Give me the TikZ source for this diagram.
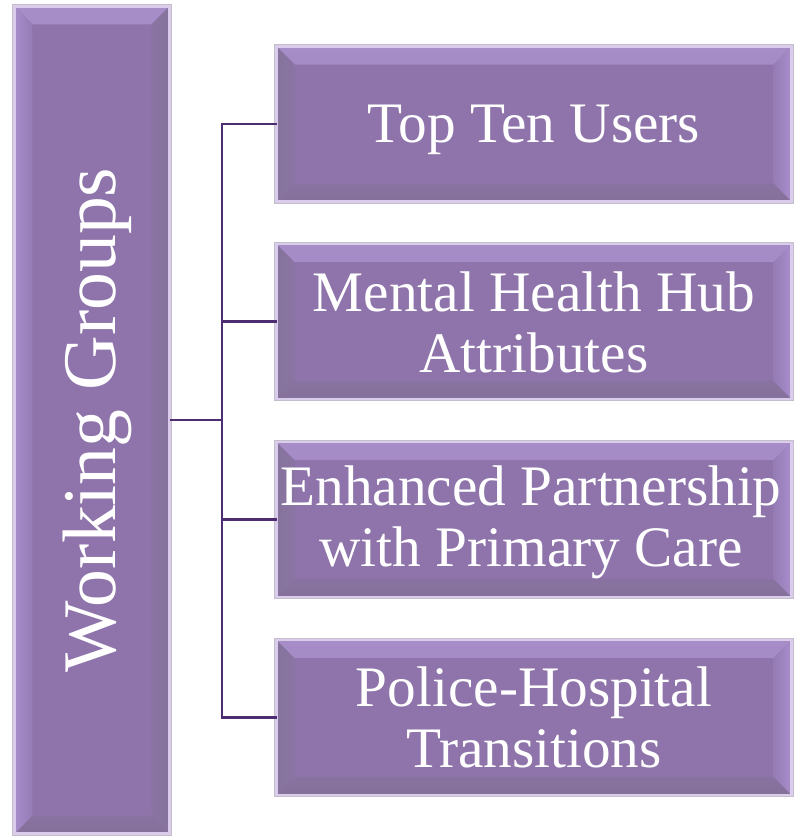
\documentclass[tikz,border=0pt]{standalone}
\usepackage{fontspec}
\setmainfont{Liberation Serif}
\definecolor{face}{HTML}{8E74AA}
\definecolor{bevtop}{HTML}{A78DC8}
\definecolor{bevlight}{HTML}{A78ECB}
\definecolor{bevdark}{HTML}{86749C}
\definecolor{bevbot}{HTML}{85719A}
\definecolor{rimin}{HTML}{D9CDEB}
\definecolor{rimout}{HTML}{C4BFCB}
\definecolor{conn}{HTML}{4E2C72}
\newcommand{\bvs}{18bp}
\tikzset{
  rimbox/.style={rectangle, inner sep=0pt, outer sep=0pt, fill=face,
    draw=rimin, line width=2.5bp, preaction={draw=rimout, line width=4.5bp}},
  leftbevbox/.style={rimbox, path picture={
    \shade[top color=bevtop, bottom color=face!55!bevtop]
      (path picture bounding box.north west) -- (path picture bounding box.north east)
      -- ([xshift=-\bvs,yshift=-\bvs]path picture bounding box.north east)
      -- ([xshift=\bvs,yshift=-\bvs]path picture bounding box.north west) -- cycle;
    \shade[top color=face!40!bevbot, bottom color=bevbot]
      (path picture bounding box.south west) -- (path picture bounding box.south east)
      -- ([xshift=-\bvs,yshift=\bvs]path picture bounding box.south east)
      -- ([xshift=\bvs,yshift=\bvs]path picture bounding box.south west) -- cycle;
    \shade[left color=bevlight, right color=face!70!bevlight]
      (path picture bounding box.north west) -- (path picture bounding box.south west)
      -- ([xshift=\bvs,yshift=\bvs]path picture bounding box.south west)
      -- ([xshift=\bvs,yshift=-\bvs]path picture bounding box.north west) -- cycle;
    \shade[left color=face!50!bevdark, right color=bevdark]
      (path picture bounding box.north east) -- (path picture bounding box.south east)
      -- ([xshift=-\bvs,yshift=\bvs]path picture bounding box.south east)
      -- ([xshift=-\bvs,yshift=-\bvs]path picture bounding box.north east) -- cycle;
  }},
  rightbevbox/.style={rimbox, minimum width=515bp, minimum height=155bp, path picture={
    \shade[top color=bevtop, bottom color=face!55!bevtop]
      (path picture bounding box.north west) -- (path picture bounding box.north east)
      -- ([xshift=-\bvs,yshift=-\bvs]path picture bounding box.north east)
      -- ([xshift=\bvs,yshift=-\bvs]path picture bounding box.north west) -- cycle;
    \shade[top color=face!40!bevbot, bottom color=bevbot]
      (path picture bounding box.south west) -- (path picture bounding box.south east)
      -- ([xshift=-\bvs,yshift=\bvs]path picture bounding box.south east)
      -- ([xshift=\bvs,yshift=\bvs]path picture bounding box.south west) -- cycle;
    \shade[left color=bevdark, right color=face!50!bevdark]
      (path picture bounding box.north west) -- (path picture bounding box.south west)
      -- ([xshift=\bvs,yshift=\bvs]path picture bounding box.south west)
      -- ([xshift=\bvs,yshift=-\bvs]path picture bounding box.north west) -- cycle;
    \shade[left color=face!70!bevlight, right color=bevlight]
      (path picture bounding box.north east) -- (path picture bounding box.south east)
      -- ([xshift=-\bvs,yshift=\bvs]path picture bounding box.south east)
      -- ([xshift=-\bvs,yshift=-\bvs]path picture bounding box.north east) -- cycle;
  }},
  boxlabel/.style={text=white, align=center, inner sep=0pt,
    font=\fontsize{57.5}{61}\selectfont},
  wglabel/.style={text=white, inner sep=0pt, font=\fontsize{76}{80}\selectfont},
  connline/.style={draw=conn, line width=2.2bp}
}
\begin{document}
\begin{tikzpicture}[x=1bp, y=-1bp]
  \useasboundingbox (0,0) rectangle (794,836);
  % left box
  \node[leftbevbox, minimum width=155bp, minimum height=827bp] (wg) at (92,420) {};
  \node[wglabel] (wgt) at ([xshift=5bp]wg.center) {\rotatebox{90}{Working Groups}};
  % right boxes
  \node[rightbevbox] (b1) at (534,124) {};
  \node[rightbevbox] (b2) at (534,321.5) {};
  \node[rightbevbox] (b3) at (534,519.5) {};
  \node[rightbevbox] (b4) at (534,717.5) {};
  \node[boxlabel] (l1) at ([yshift=-6bp]b1.center) {Top Ten Users};
  \node[boxlabel] (l2) at ([yshift=-1bp]b2.center) {Mental Health Hub\\Attributes};
  \node[boxlabel] (l3) at ([xshift=-3bp,yshift=-3bp]b3.center) {Enhanced Partnership\\with Primary Care};
  \node[boxlabel] (l4) at (b4.center) {Police-Hospital\\Transitions};
  % connectors
  \coordinate (j) at (222,420);
  \draw[connline] (wg.east) -- (j);
  \draw[connline] (j) |- (b1.west);
  \draw[connline] (j) |- (b2.west);
  \draw[connline] (j) |- (b3.west);
  \draw[connline] (j) |- (b4.west);
\end{tikzpicture}
\end{document}
